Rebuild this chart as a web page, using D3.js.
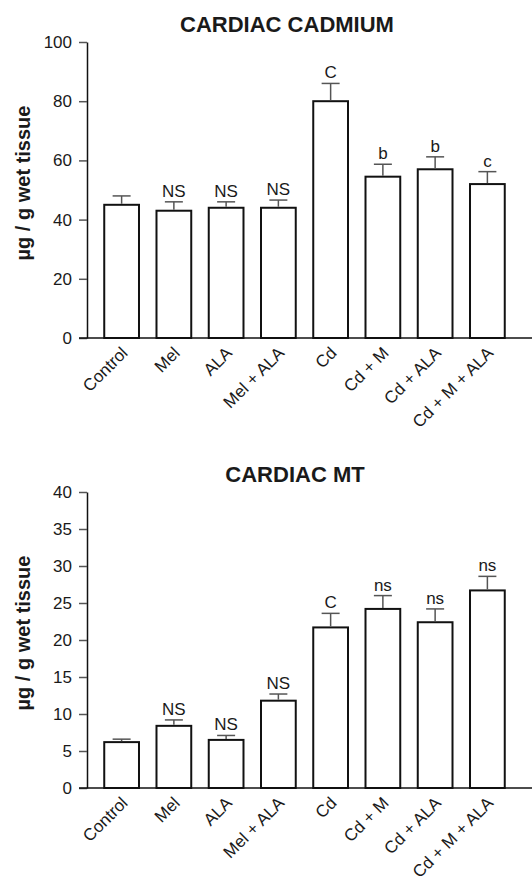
<!DOCTYPE html>
<html>
<head>
<meta charset="utf-8">
<script src="https://cdn.jsdelivr.net/npm/d3@7"></script>
<style>
  body { margin: 0; background: #fff; }
  text { font-family: "Liberation Sans", Arial, Helvetica, sans-serif; fill: #1a1a1a; }
</style>
</head>
<body>
<script>
// groups and values
var groups = ['Control', 'Mel', 'ALA', 'Mel + ALA', 'Cd', 'Cd + M', 'Cd + ALA', 'Cd + M + ALA'];

var cadmiumMean = [45, 43, 44, 44, 80, 54.5, 57, 52];
var cadmiumErr  = [3, 3, 2, 2.6, 6, 4.2, 4.2, 4.2];
var cadmiumSig  = ['', 'NS', 'NS', 'NS', 'C', 'b', 'b', 'c'];
var cadmiumTicks = [0, 20, 40, 60, 80, 100];

var mtMean = [6.2, 8.4, 6.5, 11.8, 21.7, 24.2, 22.4, 26.7];
var mtErr  = [0.4, 0.8, 0.6, 0.9, 1.9, 1.8, 1.8, 1.9];
var mtSig  = ['', 'NS', 'NS', 'NS', 'C', 'ns', 'ns', 'ns'];
var mtTicks = [0, 5, 10, 15, 20, 25, 30, 35, 40];

var W = 532, H = 884;
var axisX = 87;

var svg = d3.select('body').append('svg')
    .attr('width', W)
    .attr('height', H);

var x = d3.scaleBand()
    .domain(groups)
    .range([axisX, 522])
    .paddingInner(0.335)
    .paddingOuter(0.33);

function panel(opts) {
  var y = d3.scaleLinear().domain(opts.domain).range([opts.bottom, opts.top]);
  var g = svg.append('g');

  // title
  g.append('text')
    .attr('x', opts.titleX)
    .attr('y', opts.top - 10)
    .attr('text-anchor', 'middle')
    .style('font-size', '22px')
    .style('font-weight', 'bold')
    .text(opts.title);

  // y axis label
  g.append('text')
    .attr('transform', 'translate(30,' + ((opts.top + opts.bottom) / 2 - 7) + ') rotate(-90)')
    .attr('text-anchor', 'middle')
    .style('font-size', '20px')
    .style('font-weight', 'bold')
    .text('\u00b5g / g wet tissue');

  // y axis
  var ya = g.append('g')
    .attr('transform', 'translate(' + axisX + ',0)')
    .call(d3.axisLeft(y).tickValues(opts.ticks).tickSize(8).tickSizeOuter(0).tickPadding(7));
  ya.select('.domain').attr('stroke', '#111').attr('stroke-width', 1.5);
  ya.selectAll('.tick line').attr('stroke', '#555').attr('stroke-width', 1.5);
  ya.selectAll('.tick text')
    .style('font-size', '17px')
    .style('font-family', '"Liberation Sans", Arial, sans-serif')
    .attr('fill', '#222');

  // bars
  g.selectAll('rect.bar')
    .data(opts.mean)
    .enter().append('rect')
      .attr('class', 'bar')
      .attr('x', function(d, i) { return x(groups[i]); })
      .attr('y', function(d) { return y(d); })
      .attr('width', x.bandwidth())
      .attr('height', function(d) { return y(0) - y(d); })
      .attr('fill', '#fff')
      .attr('stroke', '#111')
      .attr('stroke-width', 2);

  // error bars (upper only)
  var eb = g.selectAll('g.err')
    .data(opts.mean)
    .enter().append('g')
      .attr('class', 'err');
  eb.append('line')
    .attr('x1', function(d, i) { return x(groups[i]) + x.bandwidth() / 2; })
    .attr('x2', function(d, i) { return x(groups[i]) + x.bandwidth() / 2; })
    .attr('y1', function(d) { return y(d) - 1; })
    .attr('y2', function(d, i) { return y(d + opts.err[i]); })
    .attr('stroke', '#555')
    .attr('stroke-width', 1.5);
  eb.append('line')
    .attr('x1', function(d, i) { return x(groups[i]) + x.bandwidth() / 2 - 9; })
    .attr('x2', function(d, i) { return x(groups[i]) + x.bandwidth() / 2 + 9; })
    .attr('y1', function(d, i) { return y(d + opts.err[i]); })
    .attr('y2', function(d, i) { return y(d + opts.err[i]); })
    .attr('stroke', '#555')
    .attr('stroke-width', 1.5);

  // significance letters
  g.selectAll('text.sig')
    .data(opts.mean)
    .enter().append('text')
      .attr('class', 'sig')
      .attr('x', function(d, i) { return x(groups[i]) + x.bandwidth() / 2; })
      .attr('y', function(d, i) { return y(d + opts.err[i]) - 5; })
      .attr('text-anchor', 'middle')
      .style('font-size', '17px')
      .text(function(d, i) { return opts.sig[i]; });

  // x axis line
  g.append('line')
    .attr('x1', axisX - 8)
    .attr('x2', W)
    .attr('y1', y(0))
    .attr('y2', y(0))
    .attr('stroke', '#111')
    .attr('stroke-width', 1.5);

  // x labels
  var xa = g.append('g')
    .attr('transform', 'translate(0,' + y(0) + ')')
    .call(d3.axisBottom(x).tickSize(0));
  xa.select('.domain').remove();
  xa.selectAll('.tick text')
    .attr('y', 0)
    .attr('dy', 0)
    .attr('text-anchor', 'end')
    .attr('transform', 'translate(7,16) rotate(-45)')
    .style('font-size', '17px')
    .style('font-family', '"Liberation Sans", Arial, sans-serif')
    .attr('fill', '#222');
}

panel({
  title: 'CARDIAC CADMIUM', titleX: 287,
  domain: [0, 100], top: 42, bottom: 338,
  ticks: cadmiumTicks, mean: cadmiumMean, err: cadmiumErr, sig: cadmiumSig
});

panel({
  title: 'CARDIAC MT', titleX: 295,
  domain: [0, 40], top: 492, bottom: 788,
  ticks: mtTicks, mean: mtMean, err: mtErr, sig: mtSig
});
</script>
</body>
</html>
